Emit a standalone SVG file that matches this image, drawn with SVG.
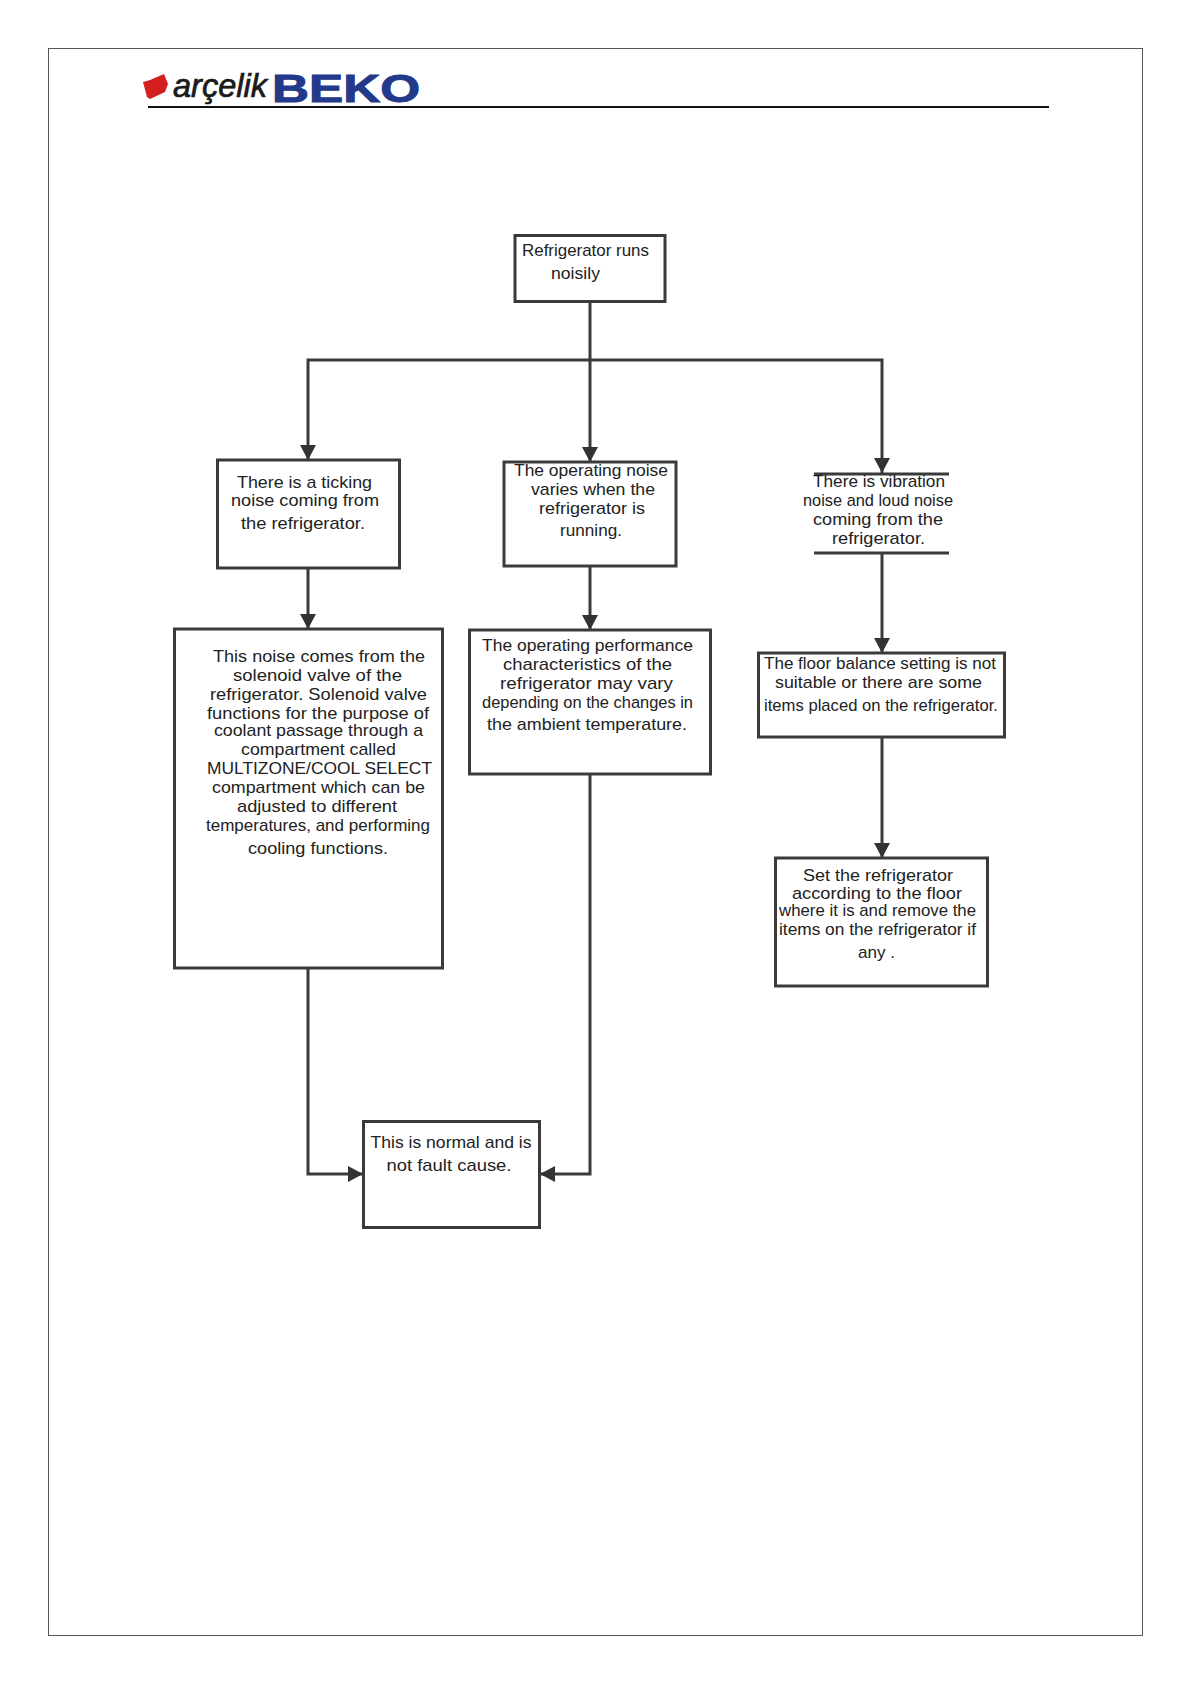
<svg xmlns="http://www.w3.org/2000/svg" width="1190" height="1684" viewBox="0 0 1190 1684">
<style>
.box{fill:#fff;stroke:#3a3a3a;stroke-width:3}
.con{fill:none;stroke:#3a3a3a;stroke-width:3;marker-end:url(#arrow)}
.seg{fill:none;stroke:#3a3a3a;stroke-width:3}
.t{font-family:"Liberation Sans",Arial,sans-serif;font-size:17px;fill:#222;text-anchor:middle}
</style>
<defs><marker id="arrow" markerUnits="userSpaceOnUse" markerWidth="16" markerHeight="16" refX="15" refY="8" orient="auto"><path d="M0 0L15 8L0 16Z" fill="#333"/></marker></defs>
<rect width="1190" height="1684" fill="#fff"/>
<rect x="48.500" y="48.500" width="1094" height="1587" fill="none" stroke="#555" stroke-width="1"/>
<g id="header">
<polygon points="143,82 150,80 164,74 168,84 165,92 150,99 147,97" fill="#d3201f"/>
<text x="173" y="97" font-family="Liberation Sans,sans-serif" font-style="italic" font-size="33" fill="#1a1a1a" stroke="#1a1a1a" stroke-width="0.700" textLength="94" lengthAdjust="spacingAndGlyphs">arçelik</text>
<text x="272" y="101.500" font-family="Liberation Sans,sans-serif" font-weight="bold" font-size="39" fill="#233a8b" stroke="#233a8b" stroke-width="1" textLength="148" lengthAdjust="spacingAndGlyphs">BEKO</text>
<line x1="148" y1="107" x2="1049" y2="107" stroke="#111" stroke-width="2"/>
</g>
<g id="connectors">
<path class="seg" d="M590 302V360"/>
<path class="con" d="M590 360H308V460"/>
<path class="con" d="M590 360V462"/>
<path class="con" d="M590 360H882V473"/>
<path class="con" d="M308 568V629"/>
<path class="con" d="M590 566V630"/>
<path class="con" d="M882 553V653"/>
<path class="con" d="M882 738V858"/>
<path class="con" d="M308 969V1174H363"/>
<path class="con" d="M590 774V1174H540"/>
</g>
<g id="n1"><rect class="box" x="515" y="235.500" width="150" height="66"/>
<text class="t" x="585.500" y="255.500" textLength="127" lengthAdjust="spacingAndGlyphs">Refrigerator runs</text>
<text class="t" x="575.500" y="278.500" textLength="49" lengthAdjust="spacingAndGlyphs">noisily</text></g>
<g id="n2"><rect class="box" x="217.500" y="460" width="182" height="108"/>
<text class="t" x="304.500" y="487.500" textLength="135" lengthAdjust="spacingAndGlyphs">There is a ticking</text>
<text class="t" x="305" y="506" textLength="148" lengthAdjust="spacingAndGlyphs">noise coming from</text>
<text class="t" x="303" y="529" textLength="124" lengthAdjust="spacingAndGlyphs">the refrigerator.</text></g>
<g id="n3"><rect class="box" x="504" y="462" width="172" height="104"/>
<text class="t" x="591" y="476" textLength="154" lengthAdjust="spacingAndGlyphs">The operating noise</text>
<text class="t" x="593" y="495" textLength="124" lengthAdjust="spacingAndGlyphs">varies when the</text>
<text class="t" x="592" y="514" textLength="106" lengthAdjust="spacingAndGlyphs">refrigerator is</text>
<text class="t" x="591" y="536" textLength="62" lengthAdjust="spacingAndGlyphs">running.</text></g>
<g id="n4"><path class="seg" d="M814 474H949M814 553H949"/>
<text class="t" x="879" y="487" textLength="132" lengthAdjust="spacingAndGlyphs">There is vibration</text>
<text class="t" x="878" y="506" textLength="150" lengthAdjust="spacingAndGlyphs">noise and loud noise</text>
<text class="t" x="878" y="525" textLength="130" lengthAdjust="spacingAndGlyphs">coming from the</text>
<text class="t" x="878.500" y="544" textLength="93" lengthAdjust="spacingAndGlyphs">refrigerator.</text></g>
<g id="n5"><rect class="box" x="174.500" y="629" width="268" height="339"/>
<text class="t" x="319" y="662" textLength="212" lengthAdjust="spacingAndGlyphs">This noise comes from the</text>
<text class="t" x="317.500" y="681" textLength="169" lengthAdjust="spacingAndGlyphs">solenoid valve of the</text>
<text class="t" x="318.500" y="700" textLength="217" lengthAdjust="spacingAndGlyphs">refrigerator. Solenoid valve</text>
<text class="t" x="318" y="719" textLength="222" lengthAdjust="spacingAndGlyphs">functions for the purpose of</text>
<text class="t" x="318.500" y="736" textLength="209" lengthAdjust="spacingAndGlyphs">coolant passage through a</text>
<text class="t" x="318.500" y="755" textLength="155" lengthAdjust="spacingAndGlyphs">compartment called</text>
<text class="t" x="319.500" y="774" textLength="225" lengthAdjust="spacingAndGlyphs">MULTIZONE/COOL SELECT</text>
<text class="t" x="318.500" y="793" textLength="213" lengthAdjust="spacingAndGlyphs">compartment which can be</text>
<text class="t" x="317" y="812" textLength="160" lengthAdjust="spacingAndGlyphs">adjusted to different</text>
<text class="t" x="318" y="831" textLength="224" lengthAdjust="spacingAndGlyphs">temperatures, and performing</text>
<text class="t" x="318" y="854" textLength="140" lengthAdjust="spacingAndGlyphs">cooling functions.</text></g>
<g id="n6"><rect class="box" x="469.500" y="630" width="241" height="144"/>
<text class="t" x="587.500" y="650.500" textLength="211" lengthAdjust="spacingAndGlyphs">The operating performance</text>
<text class="t" x="587.500" y="669.500" textLength="169" lengthAdjust="spacingAndGlyphs">characteristics of the</text>
<text class="t" x="586.500" y="688.500" textLength="173" lengthAdjust="spacingAndGlyphs">refrigerator may vary</text>
<text class="t" x="587.500" y="707.500" textLength="211" lengthAdjust="spacingAndGlyphs">depending on the changes in</text>
<text class="t" x="587" y="730" textLength="200" lengthAdjust="spacingAndGlyphs">the ambient temperature.</text></g>
<g id="n7"><rect class="box" x="758.500" y="653" width="246" height="84"/>
<text class="t" x="880" y="669" textLength="232" lengthAdjust="spacingAndGlyphs">The floor balance setting is not</text>
<text class="t" x="878.500" y="688" textLength="207" lengthAdjust="spacingAndGlyphs">suitable or there are some</text>
<text class="t" x="881" y="711" textLength="234" lengthAdjust="spacingAndGlyphs">items placed on the refrigerator.</text></g>
<g id="n8"><rect class="box" x="775.500" y="858" width="212" height="128"/>
<text class="t" x="878" y="880.500" textLength="150" lengthAdjust="spacingAndGlyphs">Set the refrigerator</text>
<text class="t" x="877" y="899" textLength="170" lengthAdjust="spacingAndGlyphs">according to the floor</text>
<text class="t" x="877.500" y="916" textLength="197" lengthAdjust="spacingAndGlyphs">where it is and remove the</text>
<text class="t" x="877.500" y="935" textLength="197" lengthAdjust="spacingAndGlyphs">items on the refrigerator if</text>
<text class="t" x="876.500" y="958" textLength="37" lengthAdjust="spacingAndGlyphs">any .</text></g>
<g id="n9"><rect class="box" x="363.500" y="1121.500" width="176" height="106"/>
<text class="t" x="451" y="1148" textLength="161" lengthAdjust="spacingAndGlyphs">This is normal and is</text>
<text class="t" x="449" y="1171" textLength="125" lengthAdjust="spacingAndGlyphs">not fault cause.</text></g>
</svg>
